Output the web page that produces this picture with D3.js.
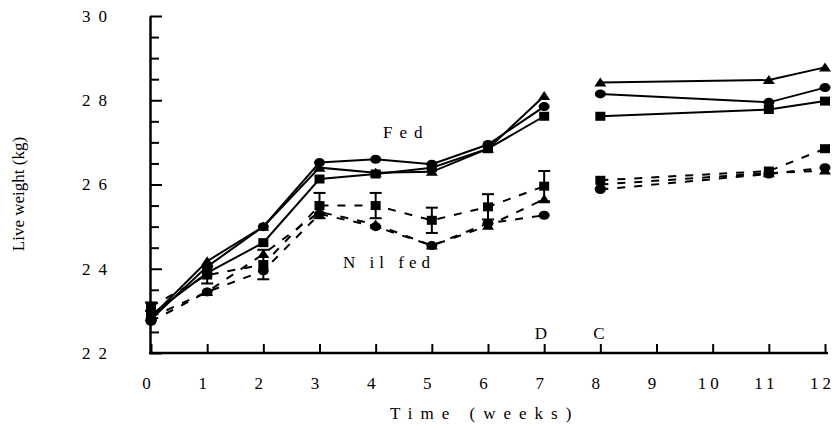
<!DOCTYPE html>
<html>
<head>
<meta charset="utf-8">
<script src="https://cdn.jsdelivr.net/npm/d3@7"></script>
<style>
  body { margin: 0; background: #fff; }
  svg text { font-family: "Liberation Serif", "Times New Roman", serif; fill: #000; }
</style>
</head>
<body>
<div id="chart"></div>
<script>
// live weight, fed vs nil fed
var w = 835, h = 428;

var weeks = [0, 1, 2, 3, 4, 5, 6, 7, 8, 11, 12];
var fedTriangle = [22.85, 24.18, 25.0, 26.4, 26.28, 26.3, 26.85, 28.1, 28.42, 28.48, 28.78];
var fedCircle   = [22.8, 24.05, 25.0, 26.52, 26.6, 26.48, 26.95, 27.85, 28.15, 27.95, 28.3];
var fedSquare   = [22.9, 23.9, 24.62, 26.13, 26.25, 26.4, 26.85, 27.62, 27.62, 27.78, 27.98];
var nilSquare   = [23.1, 23.85, 24.1, 25.5, 25.5, 25.15, 25.47, 25.96, 26.1, 26.32, 26.85];
var nilSquareSE = [0.1, 0.2, 0.35, 0.3, 0.3, 0.3, 0.3, 0.36, 0, 0, 0];
var nilTriangle = [22.85, 23.45, 24.35, 25.35, 25.05, 24.55, 25.02, 25.65, 26.0, 26.27, 26.33];
var nilCircle   = [22.75, 23.45, 23.95, 25.3, 25.0, 24.55, 25.08, 25.27, 25.88, 26.25, 26.4];

var xTicks = [0, 1, 2, 3, 4, 5, 6, 7, 8, 9, 10, 11, 12];
var yTicks = d3.range(22, 30.01, 0.5);
var yLabels = [22, 24, 26, 28, 30];

var series = [
  { v: fedTriangle, shape: "triangle", dash: null },
  { v: fedCircle,   shape: "circle",   dash: null },
  { v: fedSquare,   shape: "square",   dash: null },
  { v: nilTriangle, shape: "triangle", dash: "8,9" },
  { v: nilCircle,   shape: "circle",   dash: "8,9" },
  { v: nilSquare,   shape: "square",   dash: "8,9", se: nilSquareSE }
];

var svg = d3.select("#chart").append("svg").attr("width", w).attr("height", h);

var x = d3.scaleLinear().domain([0, 12]).range([151, 825]);
var y = d3.scaleLinear().domain([22, 30]).range([353, 16]);

// axes, ticks pointing inwards
var yAxis = d3.axisLeft(y).tickValues(yTicks).tickSizeInner(-9).tickSizeOuter(0).tickPadding(35)
  .tickFormat(function(d) { return yLabels.indexOf(d) >= 0 ? d : ""; });
var gy = svg.append("g").attr("transform", "translate(150,0)").call(yAxis);
gy.select(".domain").attr("stroke-width", 2.5);
gy.selectAll(".tick line").attr("stroke-width", 2)
  .attr("x2", function(d) { return d % 2 == 0 ? 12 : 9; });
gy.selectAll(".tick text").attr("font-size", 17).attr("letter-spacing", "8px");

var xAxis = d3.axisBottom(x).tickValues(xTicks).tickSizeInner(-9).tickSizeOuter(0).tickPadding(24)
  .tickFormat(function(d) { return d; });
var gx = svg.append("g").attr("transform", "translate(0,353)").call(xAxis);
gx.select(".domain").attr("stroke-width", 2.5).attr("d", "M149,0H828");
gx.selectAll(".tick line").attr("stroke-width", 2);
gx.selectAll(".tick text").attr("font-size", 17).attr("letter-spacing", "4px").attr("dx", "-3");

// lines: weeks 0-7 and 8-12 drawn separately
var line = d3.line().x(function(d) { return x(d[0]); }).y(function(d) { return y(d[1]); });
function segs(v) {
  var pts = weeks.map(function(wk, i) { return [wk, v[i]]; });
  return [pts.filter(function(p) { return p[0] <= 7; }), pts.filter(function(p) { return p[0] >= 8; })];
}

series.forEach(function(s) {
  segs(s.v).forEach(function(seg) {
    svg.append("path").attr("d", line(seg)).attr("fill", "none").attr("stroke", "#000")
      .attr("stroke-width", 2).attr("stroke-dasharray", s.dash);
  });
});

// error bars
series.filter(function(s) { return s.se; }).forEach(function(s) {
  weeks.forEach(function(wk, i) {
    if (!s.se[i]) return;
    var cx = x(wk), y1 = y(s.v[i] + s.se[i]), y2 = y(s.v[i] - s.se[i]);
    var g = svg.append("g").attr("stroke", "#000").attr("stroke-width", 2);
    g.append("line").attr("x1", cx).attr("x2", cx).attr("y1", y1).attr("y2", y2);
    g.append("line").attr("x1", cx - 6).attr("x2", cx + 6).attr("y1", y1).attr("y2", y1);
    g.append("line").attr("x1", cx - 6).attr("x2", cx + 6).attr("y1", y2).attr("y2", y2);
  });
});

// markers
series.forEach(function(s) {
  weeks.forEach(function(wk, i) {
    var cx = x(wk), cy = y(s.v[i]);
    if (s.shape == "circle") {
      svg.append("ellipse").attr("cx", cx).attr("cy", cy).attr("rx", 5.5).attr("ry", 4.5);
    } else if (s.shape == "square") {
      svg.append("rect").attr("x", cx - 5).attr("y", cy - 4.5).attr("width", 10).attr("height", 9);
    } else {
      svg.append("path").attr("d", "M" + cx + "," + (cy - 5) + "L" + (cx + 6) + "," + (cy + 4) +
        "L" + (cx - 6) + "," + (cy + 4) + "Z");
    }
  });
});

// annotations
svg.append("text").attr("x", 383).attr("y", 138).attr("font-size", 17).attr("letter-spacing", "7px").text("Fed");
svg.append("text").attr("x", 343).attr("y", 268).attr("font-size", 17).attr("letter-spacing", "5px").text("N il fed");
svg.append("text").attr("x", 541).attr("y", 339).attr("font-size", 17).attr("text-anchor", "middle").text("D");
svg.append("text").attr("x", 599).attr("y", 339).attr("font-size", 17).attr("text-anchor", "middle").text("C");

svg.append("text").attr("x", 390).attr("y", 419).attr("font-size", 17).attr("letter-spacing", "8px")
  .text("Time (weeks)");
svg.append("text").attr("transform", "translate(24,194) rotate(-90)").attr("text-anchor", "middle")
  .attr("font-size", 17).text("Live weight (kg)");
</script>
</body>
</html>
